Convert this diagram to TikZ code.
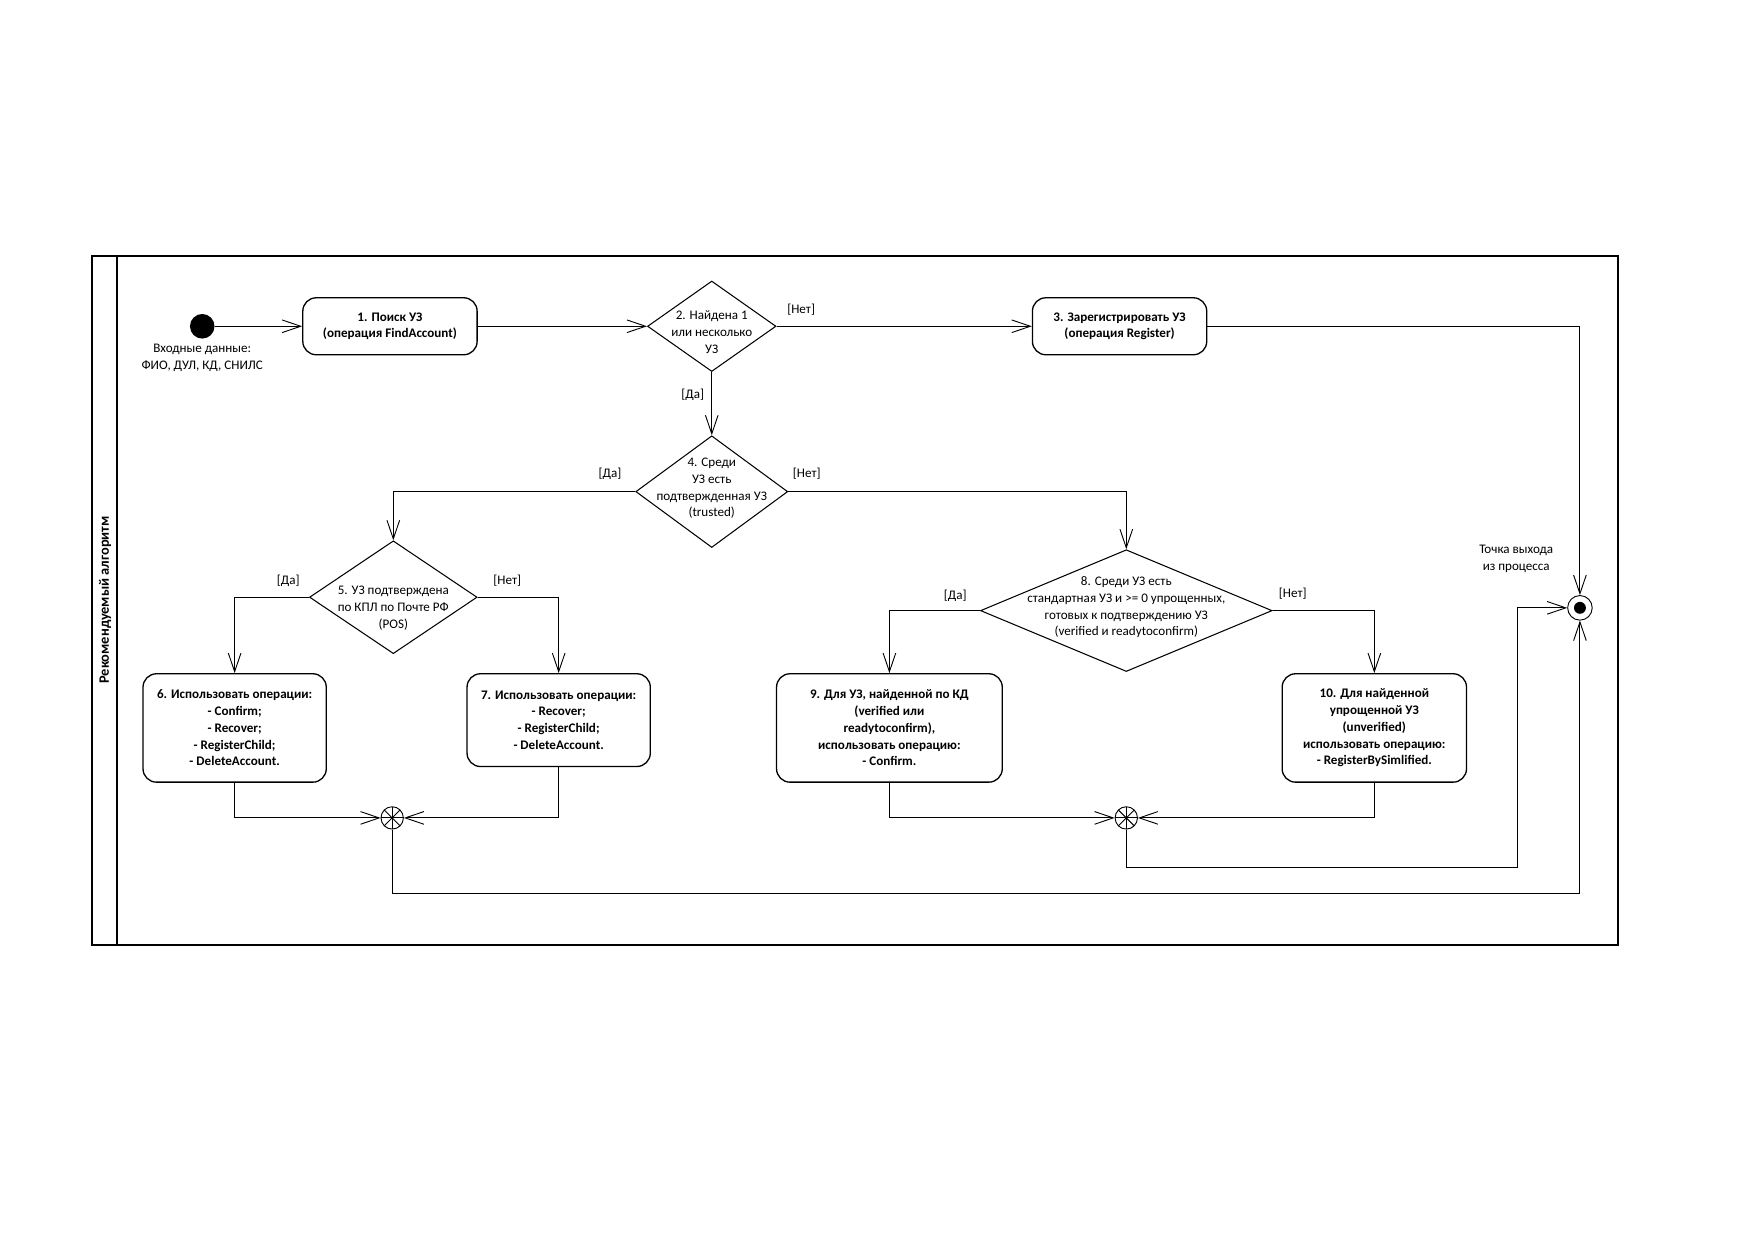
\documentclass[tikz,border=0pt]{standalone}
\usepackage{fontspec}
\setmainfont{Carlito}
\usetikzlibrary{arrows.meta,shapes.geometric}

\newcommand{\dfont}{\fontsize{10}{12.8}\selectfont}
\newcommand{\dtxt}[2][0mm]{\smash{\raisebox{#1}{\begin{tabular}{@{}c@{}}#2\end{tabular}}}}

\tikzset{
    flow/.style={line width=0.7pt,-{Straight Barb[length=5mm,width=3.4mm,line width=0.7pt]}},
    action/.style={draw,rectangle,rounded corners=3.6mm,line width=1pt,align=center,inner sep=1mm,font=\dfont\bfseries},
    decision/.style={draw,diamond,line width=0.8pt,inner sep=0pt,font=\dfont},
    lbl/.style={align=center,inner sep=1pt,font=\dfont},
    startdot/.style={circle,fill,minimum size=6.6mm,inner sep=0pt},
    merge/.style={circle,draw,line width=0.7pt,minimum size=6mm,inner sep=0pt,
        path picture={
            \draw (path picture bounding box.center) +(90:3mm) -- +(270:3mm);
            \draw (path picture bounding box.center) +(0:3mm) -- +(180:3mm);
            \draw (path picture bounding box.center) +(45:3mm) -- +(225:3mm);
            \draw (path picture bounding box.center) +(135:3mm) -- +(315:3mm);
        }},
    final/.style={circle,draw,line width=0.7pt,minimum size=6.6mm,inner sep=0pt,
        path picture={\fill (path picture bounding box.center) circle (1.6mm);}},
}

\begin{document}
\begin{tikzpicture}[x=0.3mm,y=-0.3mm]
    \useasboundingbox (0,0) rectangle (1568,1109);
    \draw[line width=1.4pt] (82,229) rectangle (1448,846);
    \draw[line width=1.4pt] (105,229) -- (105,846);
    \node[lbl,rotate=90,font=\fontsize{11}{13}\selectfont\bfseries] (lane) at (94,537) {Рекомендуемый алгоритм};

    \node[startdot] (start) at (181,292) {};
    \node[lbl] (input) at (181,320.5) {Входные данные:\\ФИО, ДУЛ, КД, СНИЛС};
    \node[action,minimum width=46.8mm,minimum height=15.3mm] (b1) at (349,292) {1. Поиск УЗ\\(операция FindAccount)};
    \node[decision,aspect=1.42,minimum width=34.5mm,minimum height=24.3mm] (d2) at (637,292) {\dtxt[-2.7mm]{2. Найдена 1\\или несколько\\УЗ}};
    \node[action,minimum width=46.8mm,minimum height=15.3mm] (b3) at (1002,292) {3. Зарегистрировать УЗ\\(операция Register)};
    \node[decision,aspect=1.36,minimum width=40.8mm,minimum height=30mm] (d4) at (637,440) {\dtxt{4. Среди\\УЗ есть\\подтвержденная УЗ\\(trusted)}};
    \node[decision,aspect=1.49,minimum width=45mm,minimum height=30.3mm] (d5) at (352,534.5) {\dtxt[-3.8mm]{5. УЗ подтверждена\\по КПЛ по Почте РФ\\(POS)}};
    \node[decision,aspect=2.39,minimum width=78.3mm,minimum height=32.7mm] (d8) at (1008,546.5) {\dtxt{8. Среди УЗ есть\\стандартная УЗ и >= 0 упрощенных,\\готовых к подтверждению УЗ\\(verified и readytoconfirm)}};
    \node[action,minimum width=49.2mm,minimum height=29.1mm] (b6) at (210,651.5) {6. Использовать операции:\\- Confirm;\\- Recover;\\- RegisterChild;\\- DeleteAccount.};
    \node[action,minimum width=49.2mm,minimum height=24.9mm] (b7) at (500,644.5) {7. Использовать операции:\\- Recover;\\- RegisterChild;\\- DeleteAccount.};
    \node[action,minimum width=60.6mm,minimum height=29.1mm] (b9) at (796,651.5) {9. Для УЗ, найденной по КД\\(verified или\\readytoconfirm),\\использовать операцию:\\- Confirm.};
    \node[action,minimum width=49.5mm,minimum height=29.1mm] (b10) at (1230,651.5) {10. Для найденной\\упрощенной УЗ\\(unverified)\\использовать операцию:\\- RegisterBySimlified.};
    \node[merge] (mA) at (351,732) {};
    \node[merge] (mB) at (1008,732) {};
    \node[final] (fin) at (1414,544) {};
    \node[lbl] (exit) at (1357,500.5) {Точка выхода\\из процесса};

    \node[lbl] (l23) at (717,277) {[Нет]};
    \node[lbl] (l24) at (620,353) {[Да]};
    \node[lbl] (l45) at (546,424) {[Да]};
    \node[lbl] (l48) at (722,424) {[Нет]};
    \node[lbl] (l56) at (258,520) {[Да]};
    \node[lbl] (l57) at (454,520) {[Нет]};
    \node[lbl] (l89) at (855,533) {[Да]};
    \node[lbl] (l810) at (1157,531) {[Нет]};

    \draw[flow] (start) -- (b1);
    \draw[flow] (b1) -- (d2);
    \draw[flow] (d2) -- (b3);
    \draw[flow] (b3.east) -| (fin);
    \draw[flow] (d2) -- (d4);
    \draw[flow] (d4.west) -| (d5);
    \draw[flow] (d4.east) -| (d8);
    \draw[flow] (d5.west) -| (b6);
    \draw[flow] (d5.east) -| (b7);
    \draw[flow] (d8.west) -| (b9);
    \draw[flow] (d8.east) -| (b10);
    \draw[flow] (b6.south) |- (mA);
    \draw[flow] (b7.south) |- (mA);
    \draw[flow] (b9.south) |- (mB);
    \draw[flow] (b10.south) |- (mB);
    \draw[flow] (mA) -- ++(0,68) -| (fin);
    \draw[flow] (mB) |- ++(350,44) |- (fin);
\end{tikzpicture}
\end{document}
